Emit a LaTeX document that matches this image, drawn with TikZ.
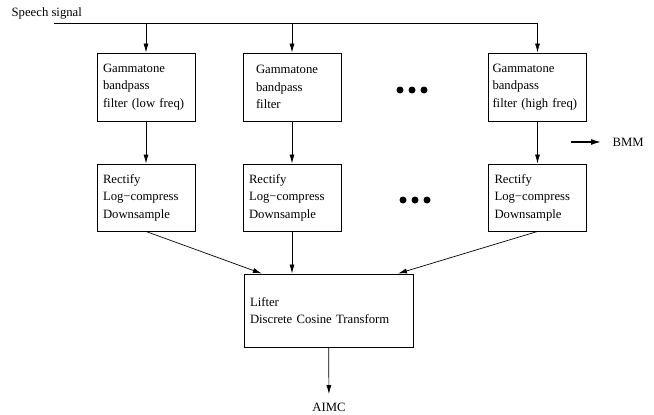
\documentclass[tikz,border=0pt]{standalone}
\usepackage{fontspec}
\setmainfont{Liberation Serif}
\usetikzlibrary{arrows.meta,positioning}

\begin{document}
\begin{tikzpicture}[x=1pt,y=-1pt,>={Latex[length=9pt,width=5pt]},line width=0.7pt,
  font=\fontsize{12.7}{17.5}\selectfont,
  box/.style={draw,line width=0.9pt,align=left,inner xsep=6pt,inner ysep=0pt,text width=86pt,minimum height=68pt}]

\useasboundingbox (0,0) rectangle (654,415);

\node[anchor=west] (sig) at (8,13) {Speech signal};
\coordinate (in) at (54,23);

\node[box] (f1) at (146,87) {Gammatone\\bandpass\\filter (low freq)};
\node[box,inner xsep=13pt,text width=72pt] (f2) at (292,87) {Gammatone\\bandpass\\filter};
\node[box,inner xsep=4pt,text width=90pt] (f3) at (537.5,87) {Gammatone\\bandpass\\filter (high freq)};

\node[box,minimum height=67pt] (r1) at (146,197.5) {Rectify\\Log−compress\\Downsample};
\node[box,minimum height=67pt] (r2) at (292,197.5) {Rectify\\Log−compress\\Downsample};
\node[box,minimum height=67pt] (r3) at (537.5,197.5) {Rectify\\Log−compress\\Downsample};

\node[box,text width=157pt,minimum height=73pt] (lift) at (328.5,310.5) {Lifter\\Discrete Cosine Transform};

\node (aimc) at (329,407) {AIMC};
\node[anchor=west] (bmm) at (609,142) {BMM};
\coordinate (bmmin) at (571,142);

% dots between the channels
\foreach \x in {400,412,424} \fill (\x,90) circle (3.5pt);
\foreach \x in {403,415,427} \fill (\x,200) circle (3.5pt);

\draw[->] (in) -| (f3.north);
\draw[->] (in -| f1.north) -- (f1);
\draw[->] (in -| f2.north) -- (f2);

\draw[->] (f1) -- (r1);
\draw[->] (f2) -- (r2);
\draw[->] (f3) -- (r3);

\draw[->] (r1.south) -- (lift.151);
\draw[->] (r2) -- (r2 |- lift.north);
\draw[->] (r3.south) -- (lift.28);

\draw[->,shorten >=5pt] (lift) -- (aimc);
\draw[-{Latex[length=10pt,width=6pt]},line width=1.3pt,shorten >=8pt] (bmmin) -- (bmm);

\end{tikzpicture}
\end{document}
